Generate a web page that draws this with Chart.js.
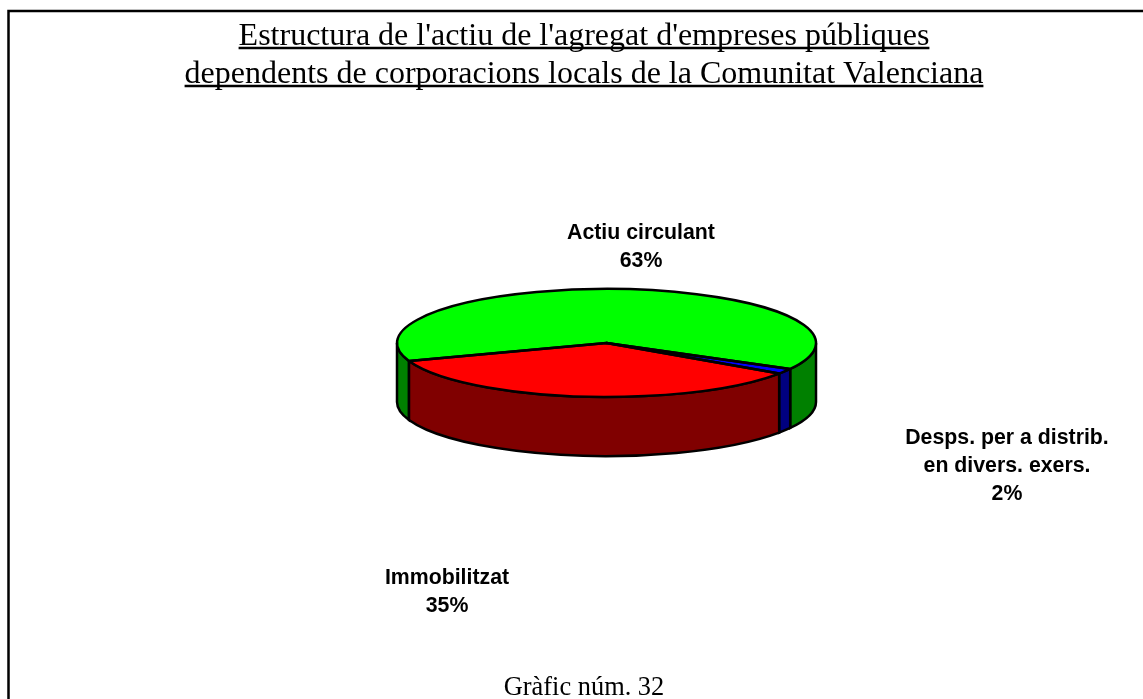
<!DOCTYPE html>
<html>
<head>
<meta charset="utf-8">
<title>Gràfic núm. 32</title>
<script src="https://cdn.jsdelivr.net/npm/chart.js@4/dist/chart.umd.min.js"></script>
<style>
  html, body { margin: 0; padding: 0; background: #fff; overflow: hidden; }
  canvas { display: block; }
</style>
</head>
<body>
<canvas id="pieChart" width="1143" height="699"></canvas>
<script>
// dades del grafic
var titleLines = ["Estructura de l'actiu de l'agregat d'empreses públiques",
                  "dependents de corporacions locals de la Comunitat Valenciana"];
var caption = "Gràfic núm. 32";
var categories = ["Actiu circulant", "Desps. per a distrib.|en divers. exers.", "Immobilitzat"];
var values = [63.4, 1.6, 35];

// colors de la cara de dalt i del lateral
var topColors = ["#00ff00", "#0000ff", "#ff0000"];
var sideColors = ["#008000", "#000080", "#800000"];

// on va cada etiqueta (centre, y de la primera linia)
var labelPos = [[641, 233], [1007, 438], [447, 578]];

var pie = { x: 606.5, y: 343, rx: 209.5, ry: 54, depth: 59 };

function wallPath(ctx, a, b) {
  ctx.beginPath();
  ctx.ellipse(pie.x, pie.y, pie.rx, pie.ry, 0, a, b, false);
  ctx.ellipse(pie.x, pie.y + pie.depth, pie.rx, pie.ry, 0, b, a, true);
  ctx.closePath();
}

var pie3d = {
  id: 'pie3d',
  beforeDraw: function(chart) {
    // marc (obert per la dreta i per baix)
    var ctx = chart.ctx;
    ctx.save();
    ctx.strokeStyle = '#000';
    ctx.lineWidth = 2.5;
    ctx.strokeRect(8.5, 11, 1300, 900);
    ctx.restore();
  },
  beforeDatasetDraw: function(chart, args) {
    var ctx = chart.ctx;
    var arcs = args.meta.data;
    ctx.save();
    ctx.lineWidth = 2.5;
    ctx.strokeStyle = '#000';
    // lateral: nomes la part del davant (0..PI)
    arcs.forEach(function(arc, i) {
      [0, Math.PI * 2, -Math.PI * 2].forEach(function(shift) {
        var a = Math.max(arc.startAngle + shift, 0);
        var b = Math.min(arc.endAngle + shift, Math.PI);
        if (b > a) {
          wallPath(ctx, a, b);
          ctx.fillStyle = sideColors[i];
          ctx.fill();
          ctx.stroke();
        }
      });
    });
    ctx.restore();
    // el pastis de Chart.js aixafat en vertical
    ctx.save();
    ctx.translate(pie.x, pie.y);
    ctx.scale(1, pie.ry / pie.rx);
    ctx.translate(-arcs[0].x, -arcs[0].y);
  },
  afterDatasetDraw: function(chart, args) {
    var ctx = chart.ctx;
    ctx.restore();
    ctx.save();
    ctx.lineWidth = 2.5;
    ctx.strokeStyle = '#000';
    ctx.lineJoin = 'round';
    args.meta.data.forEach(function(arc) {
      ctx.beginPath();
      ctx.moveTo(pie.x, pie.y);
      ctx.ellipse(pie.x, pie.y, pie.rx, pie.ry, 0, arc.startAngle, arc.endAngle, false);
      ctx.closePath();
      ctx.stroke();
    });
    ctx.restore();
  },
  afterDraw: function(chart) {
    var ctx = chart.ctx;
    ctx.save();
    // subratllat del titol
    var t = chart.titleBlock;
    var opts = t.options;
    var mid = (t.left + t.right) / 2;
    var size = opts.font.size;
    ctx.font = size + 'px ' + opts.font.family;
    ctx.strokeStyle = '#000';
    ctx.lineWidth = 2.5;
    titleLines.forEach(function(line, i) {
      var w = ctx.measureText(line).width;
      var y = t.top + opts.padding.top + size * opts.font.lineHeight * (i + 1) - 7.5;
      ctx.beginPath();
      ctx.moveTo(mid - w / 2, y);
      ctx.lineTo(mid + w / 2, y);
      ctx.stroke();
    });
    // etiquetes
    ctx.font = 'bold 21.3px "Liberation Sans"';
    ctx.fillStyle = '#000';
    ctx.textAlign = 'center';
    ctx.textBaseline = 'middle';
    categories.forEach(function(cat, i) {
      var lines = cat.split('|').concat(Math.round(values[i]) + '%');
      lines.forEach(function(line, j) {
        ctx.fillText(line, labelPos[i][0], labelPos[i][1] + j * 28);
      });
    });
    ctx.restore();
  }
};

new Chart(document.getElementById('pieChart').getContext('2d'), {
  type: 'pie',
  data: {
    labels: categories,
    datasets: [{
      data: values,
      backgroundColor: topColors,
      borderWidth: 0,
      radius: pie.rx,
      clip: false
    }]
  },
  options: {
    responsive: false,
    animation: false,
    rotation: 250.5,
    layout: { padding: { left: 25 } },
    events: [],
    plugins: {
      legend: { display: false },
      tooltip: { enabled: false },
      title: {
        display: true,
        text: titleLines,
        color: '#000',
        font: { family: '"Liberation Serif"', size: 32, weight: 'normal', lineHeight: 1.1875 },
        padding: { top: 17.5, bottom: 10 }
      },
      subtitle: {
        display: true,
        position: 'bottom',
        text: caption,
        color: '#000',
        font: { family: '"Liberation Serif"', size: 26.4, weight: 'normal', lineHeight: 1 },
        padding: { top: 10, bottom: -2.5 }
      }
    }
  },
  plugins: [pie3d]
});
</script>
</body>
</html>
